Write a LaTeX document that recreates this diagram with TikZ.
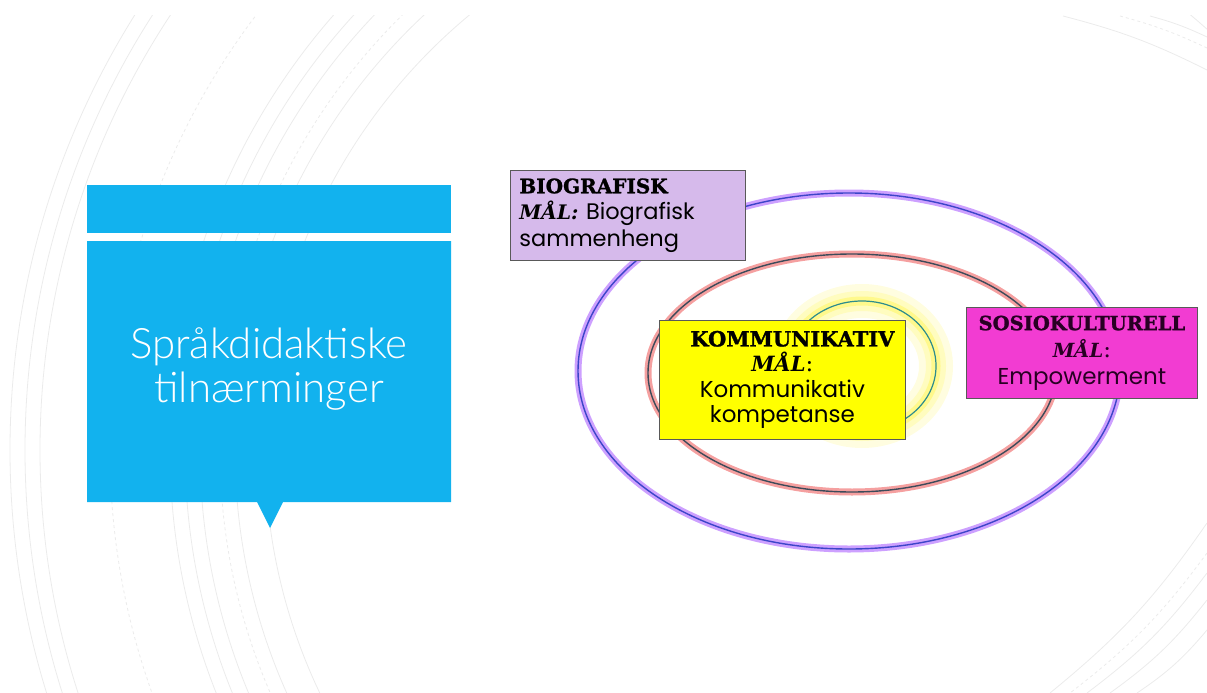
\documentclass[tikz,border=0pt]{standalone}
\usepackage{fontspec}
\setmainfont{DejaVu Serif}[BoldFeatures={FakeBold=1.3}]
\newfontfamily\titlefont{Lato Light}
\newfontfamily\handfont{Poppins}
\usetikzlibrary{
    positioning
}
\definecolor{titleblue}{RGB}{18,178,238}
\definecolor{biolilac}{RGB}{214,186,235}
\definecolor{komyellow}{RGB}{255,255,0}
\definecolor{sosiopink}{RGB}{242,60,210}
\definecolor{ringblue}{RGB}{60,70,200}
\definecolor{ringglowviolet}{RGB}{205,160,255}
\definecolor{ringslate}{RGB}{60,75,90}
\definecolor{ringglowred}{RGB}{245,160,160}
\definecolor{ringteal}{RGB}{45,140,140}
\definecolor{sosiotext}{RGB}{40,0,35}

\tikzset{
    bgarc/.style={draw=gray!16, line width=0.8},
    maalbox/.style={draw=gray!70!black, line width=0.8, inner sep=0pt},
}

\begin{document}
\begin{tikzpicture}[x=1pt,y=-1pt]
                                \useasboundingbox (0,0) rectangle (1207,693);
                                % faint arcs in the background
                                \begin{scope}
                                    \clip (0,16) rectangle (1207,693);
                                    \foreach \r in {820,805,790,660,645,630,595,565}
                                        \draw[bgarc] (830,450) circle[radius=\r];
                                    \foreach \r in {720,610}
                                        \draw[bgarc, dashed] (830,450) circle[radius=\r];
                                    \draw[bgarc] (1063,16) to[bend left=6] (1207,70);
                                    \draw[bgarc, dashed] (1120,16) to[bend left=5] (1207,48);
                                    \draw[bgarc] (1150,16) to[bend left=5] (1207,37);
                                    \draw[bgarc] (1207,523) to[bend left=8] (1050,693);
                                    \draw[bgarc, dashed] (1207,553) to[bend left=8] (1070,693);
                                    \draw[bgarc] (1207,573) to[bend left=8] (1087,693);
                                    \draw[bgarc] (1207,600) to[bend left=8] (1110,693);
                                    \draw[bgarc] (1207,630) to[bend left=8] (1137,693);
                                \end{scope}

                                % title callout
                                \fill[titleblue] (87,185) rectangle (451,233);
                                \fill[titleblue] (87,241) -| (451,502) -- (283,502)
                                    -- (270,528) -- (257,502) -| cycle;
                                \node[
                                    text=white,
                                    font=\titlefont\fontsize{42}{44}\selectfont,
                                    align=center,
                                ] (title) at (269,369) {Språkdidaktiske\\tilnærminger};

                                % rings
                                \coordinate (outer) at (849,371);
                                \coordinate (middle) at (852,373);
                                \coordinate (inner) at (862,366);
                                \draw[ringglowviolet, line width=7] (outer) ellipse[x radius=271, y radius=178];
                                \draw[ringblue, line width=1.4] (outer) ellipse[x radius=271, y radius=178];
                                \draw[ringglowred, line width=7] (middle) ellipse[x radius=204, y radius=119];
                                \draw[ringslate, line width=1.4] (middle) ellipse[x radius=204, y radius=119];
                                \draw[yellow!12, line width=34] (inner) ellipse[x radius=74, y radius=65];
                                \draw[yellow!25, line width=20] (inner) ellipse[x radius=74, y radius=65];
                                \draw[yellow!45, line width=9] (inner) ellipse[x radius=74, y radius=65];
                                \draw[ringteal, line width=1.2] (inner) ellipse[x radius=74, y radius=65];

                                % the three boxes
                                \node[
                                    maalbox,
                                    fill=biolilac,
                                    anchor=north west,
                                    minimum width=235,
                                    minimum height=90,
                                    text width=217pt,
                                    align=left,
                                    font=\fontsize{22.5}{26.5}\selectfont,
                                ] (biografisk) at (510,170) {%
                                    {\fontsize{20}{20}\selectfont\bfseries BIOGRAFISK}\\
                                    {\fontsize{20}{20}\selectfont\bfseries\itshape MÅL:} {\handfont Biografisk}\\
                                    {\handfont sammenheng}};
                                \node[
                                    maalbox,
                                    fill=komyellow,
                                    anchor=north west,
                                    minimum width=246,
                                    minimum height=119,
                                    align=center,
                                    font=\fontsize{23}{25.5}\selectfont,
                                ] (kommunikativ) at (659,320) {%
                                    \hspace*{20pt}{\fontsize{21}{22}\selectfont\bfseries KOMMUNIKATIV}\\
                                    {\fontsize{21}{22}\selectfont\bfseries\itshape MÅL}:\\
                                    {\handfont Kommunikativ}\\
                                    {\handfont kompetanse}};
                                \node[
                                    maalbox,
                                    fill=sosiopink,
                                    text=sosiotext,
                                    anchor=north west,
                                    minimum width=231,
                                    minimum height=91,
                                    align=center,
                                    font=\fontsize{23}{27}\selectfont,
                                ] (sosiokulturell) at (966,307) {%
                                    {\fontsize{19.5}{20}\selectfont\bfseries SOSIOKULTURELL}\\
                                    {\fontsize{19.5}{20}\selectfont\bfseries\itshape MÅL}:\\
                                    {\handfont Empowerment}};
                            \end{tikzpicture}
\end{document}
